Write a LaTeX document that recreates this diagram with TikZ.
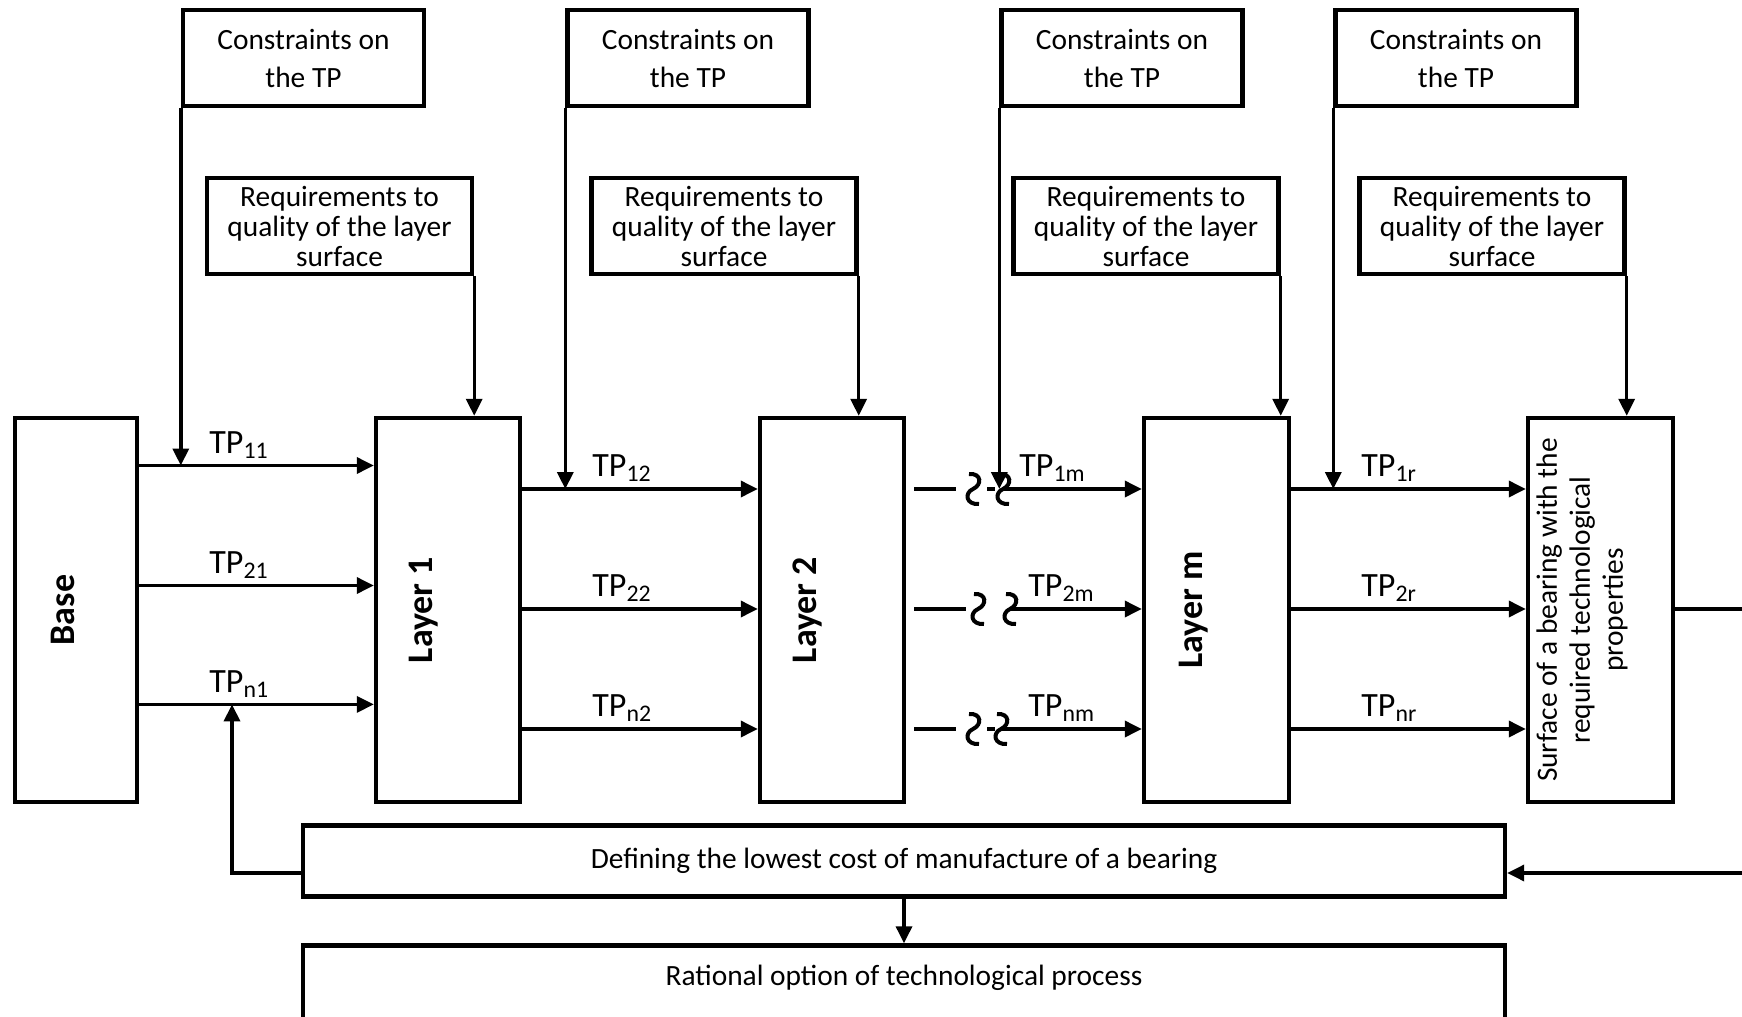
\documentclass[tikz,border=0pt]{standalone}
\usepackage{fontspec}
\setmainfont{Carlito}
\usetikzlibrary{arrows.meta}
\begin{document}
\begin{tikzpicture}[x=0.5pt,y=-0.5pt,
  box/.style={draw, line width=2.2pt, inner sep=0pt, align=center},
  conn/.style={line width=1.7pt},
  arr/.style={conn, -{Triangle[length=8.5pt,width=8pt]}},
  tp/.style={anchor=base west, inner sep=0pt, font=\fontsize{17}{20}\selectfont},
  cbox/.style={box, minimum width=120.5pt, minimum height=48pt, font=\fontsize{14.7}{19}\selectfont},
  rbox/.style={box, minimum width=132.5pt, minimum height=48pt, font=\fontsize{14.7}{15}\selectfont},
  vbox/.style={box, minimum width=72pt, minimum height=192pt},
  vlab/.style={rotate=90, anchor=base, inner sep=0pt, font=\bfseries\fontsize{18}{20}\selectfont},
  squig/.pic={\draw[line width=2pt] (-4,-15) .. controls (9,-16) and (9,-4) .. (0,0) .. controls (-9,4) and (-7,16) .. (6,15);}
]
\useasboundingbox (0,0) rectangle (1742,1017);

% top boxes
\node[cbox] (c1) at (303.5,58) {Constraints on\\the TP};
\node[cbox] (c2) at (688,58) {Constraints on\\the TP};
\node[cbox] (c3) at (1122,58) {Constraints on\\the TP};
\node[cbox] (c4) at (1456,58) {Constraints on\\the TP};

\node[rbox] (q1) at (339.5,226) {Requirements to\\quality of the layer\\surface};
\node[rbox] (q2) at (724,226) {Requirements to\\quality of the layer\\surface};
\node[rbox] (q3) at (1146,226) {Requirements to\\quality of the layer\\surface};
\node[rbox] (q4) at (1492,226) {Requirements to\\quality of the layer\\surface};

% main boxes
\node[box, minimum width=61pt, minimum height=192pt] (base) at (76,610) {};
\node[vbox] (l1) at (448,610) {};
\node[vbox] (l2) at (832,610) {};
\node[vbox, minimum width=72.5pt] (lm) at (1216.5,610) {};
\node[vbox, minimum width=72.5pt] (sf) at (1600.5,610) {};

\node[vlab] (baset) at (74,610) {Base};
\node[vlab] (l1t) at (432,610) {Layer 1};
\node[vlab] (l2t) at (816,610) {Layer 2};
\node[vlab] (lmt) at (1202,610) {Layer m};
\node[rotate=90, align=center, inner sep=0pt, font=\fontsize{14.7}{16.5}\selectfont] (sft) at (1582,610)
  {Surface of a bearing with the\\required technological\\properties};

% bottom boxes
\node[box, minimum width=601pt, minimum height=35.5pt, font=\fontsize{14.7}{16}\selectfont] (def) at (904,861)
  {Defining the lowest cost of manufacture of a bearing};
\node[box, minimum width=601pt, minimum height=42.25pt] (rat) at (904,987.75) {};
\node[inner sep=0pt, font=\fontsize{14.7}{16}\selectfont] (ratt) at (904,978) {Rational option of technological process};

% row coordinates
\coordinate (a1) at (0,465.5);
\coordinate (a2) at (0,585.5);
\coordinate (a3) at (0,704.4);
\coordinate (b1) at (0,489);
\coordinate (b2) at (0,609);
\coordinate (b3) at (0,729);

% Base -> Layer 1
\draw[arr] (base.east |- a1) -- (l1.west |- a1);
\draw[arr] (base.east |- a2) -- (l1.west |- a2);
\draw[arr] (base.east |- a3) -- (l1.west |- a3);
% Layer 1 -> Layer 2
\draw[arr] (l1.east |- b1) -- (l2.west |- b1);
\draw[arr] (l1.east |- b2) -- (l2.west |- b2);
\draw[arr] (l1.east |- b3) -- (l2.west |- b3);
% Layer m -> Surface
\draw[arr] (lm.east |- b1) -- (sf.west |- b1);
\draw[arr] (lm.east |- b2) -- (sf.west |- b2);
\draw[arr] (lm.east |- b3) -- (sf.west |- b3);

% broken lines Layer 2 -> Layer m
\coordinate (s11) at (973,489);  \coordinate (s12) at (1003,489);
\coordinate (s21) at (978,609);  \coordinate (s22) at (1010,609);
\coordinate (s31) at (973,729);  \coordinate (s32) at (1001,729);
\draw[conn] ([xshift=4pt]l2.east |- s11) -- ([xshift=-8.5pt]s11);
\draw[conn] ([xshift=7pt]s11) -- ([xshift=-4pt]s12);
\draw[arr] (s12) -- (lm.west |- s12);
\draw[conn] ([xshift=4pt]l2.east |- s21) -- ([xshift=-6pt]s21);
\draw[arr] (s22) -- (lm.west |- s22);
\draw[conn] ([xshift=4pt]l2.east |- s31) -- ([xshift=-8.5pt]s31);
\draw[conn] ([xshift=7pt]s31) -- ([xshift=-3pt]s32);
\draw[arr] (s32) -- (lm.west |- s32);
\pic at (s11) {squig}; \pic at (s12) {squig};
\pic at (s21) {squig}; \pic at (s22) {squig};
\pic at (s31) {squig}; \pic at (s32) {squig};

% constraints arrows
\draw[arr] (c1.south west) -- (c1.south west |- a1);
\draw[arr] (c2.south west) -- (c2.south west |- b1);
\draw[arr] (c3.south west) -- (c3.south west |- b1);
\draw[arr] (c4.south west) -- (c4.south west |- b1);
% requirement arrows
\draw[arr] (q1.south east) -- (q1.south east |- l1.north);
\draw[arr] (q2.south east) -- (q2.south east |- l2.north);
\draw[arr] (q3.south east) -- (q3.south east |- lm.north);
\draw[arr] (q4.south east) -- (q4.south east |- sf.north);

% feedback loops
\coordinate (fb) at (232,873);
\coordinate (fr) at (1770,873);
\draw[arr] (def.west |- fb) -- (fb) -- (fb |- a3);
\draw[arr] (sf.east |- b2) -- (fr |- b2) -- (fr) -- (def.east |- fb);
\draw[arr] (def.south) -- (rat.north);

% TP labels
\node[tp] (t11) at (209,453) {TP\textsubscript{11}};
\node[tp] (t21) at (209,573) {TP\textsubscript{21}};
\node[tp] (tn1) at (209,692) {TP\textsubscript{n1}};
\node[tp] (t12) at (592,476.5) {TP\textsubscript{12}};
\node[tp] (t22) at (592,596.5) {TP\textsubscript{22}};
\node[tp] (tn2) at (592,716.5) {TP\textsubscript{n2}};
\node[tp] (t1m) at (1019,476.5) {TP\textsubscript{1m}};
\node[tp] (t2m) at (1028,596.5) {TP\textsubscript{2m}};
\node[tp] (tnm) at (1028,716.5) {TP\textsubscript{nm}};
\node[tp] (t1r) at (1361,476.5) {TP\textsubscript{1r}};
\node[tp] (t2r) at (1361,596.5) {TP\textsubscript{2r}};
\node[tp] (tnr) at (1361,716.5) {TP\textsubscript{nr}};
\end{tikzpicture}
\end{document}
